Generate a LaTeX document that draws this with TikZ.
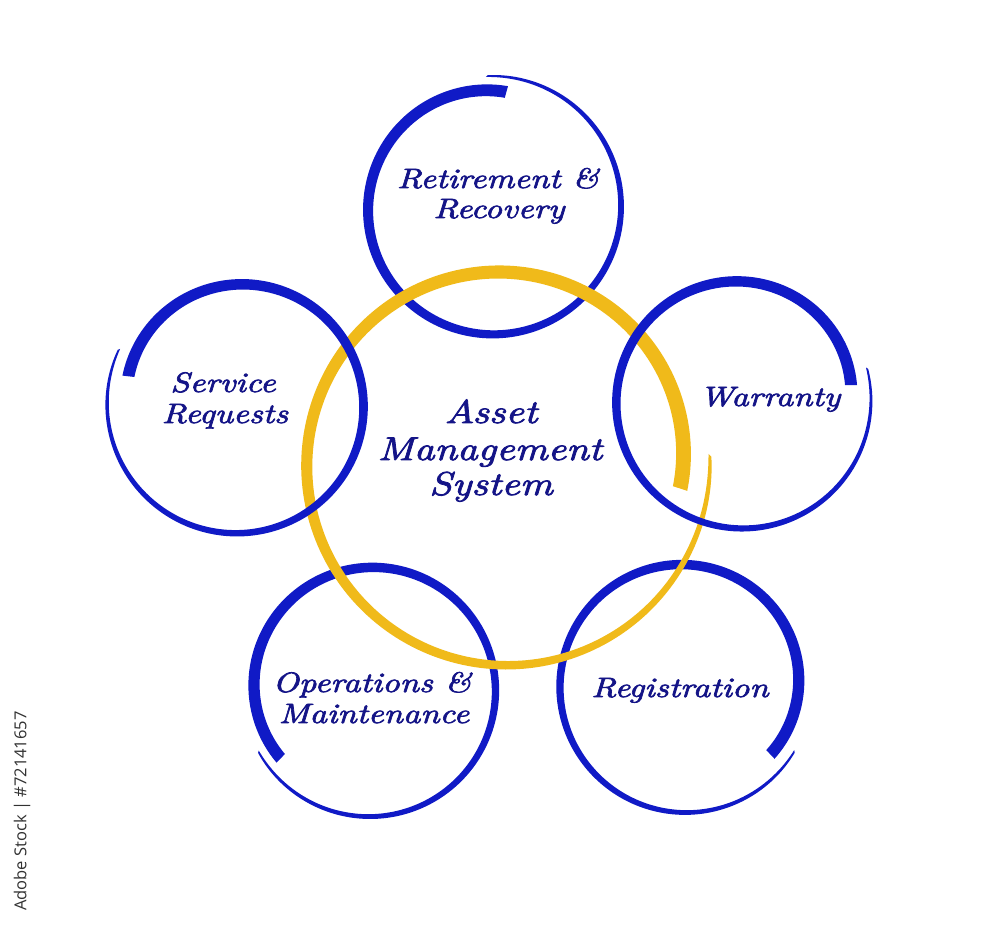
\documentclass[tikz,border=0pt]{standalone}
\usepackage{fontspec}
\newfontfamily\hand{lmroman10-italic}[Extension=.otf, FakeStretch=1.22, FakeBold=2.4]
\newfontfamily\wmfont{Open Sans}
\definecolor{ringblue}{RGB}{16,26,198}
\definecolor{ringyellow}{RGB}{240,186,26}
\definecolor{labelblue}{RGB}{20,20,135}
\definecolor{wmgray}{RGB}{50,50,50}
% brush ring: cx cy t0 sweep r0 r1 w0 w1 exponent
\newcommand\brushring[9]{%
  plot[domain=0:0.998, samples=220, variable=\s]
    ({#1+((#6)-((#6)-(#5))*(1-\s)^2+((#8)+((#7)-(#8))*(1-\s)^(#9))/2)*cos((#3)+(#4)*\s)},
     {#2+((#6)-((#6)-(#5))*(1-\s)^2+((#8)+((#7)-(#8))*(1-\s)^(#9))/2)*sin((#3)+(#4)*\s)})
  -- plot[domain=0.998:0, samples=220, variable=\s]
    ({#1+((#6)-((#6)-(#5))*(1-\s)^2-((#8)+((#7)-(#8))*(1-\s)^(#9))/2)*cos((#3)+(#4)*\s)},
     {#2+((#6)-((#6)-(#5))*(1-\s)^2-((#8)+((#7)-(#8))*(1-\s)^(#9))/2)*sin((#3)+(#4)*\s)})
  -- cycle}
\tikzset{
  bluering/.style={fill=ringblue},
  yellowring/.style={fill=ringyellow},
  lbl/.style={text=labelblue, anchor=base, inner sep=0pt, font=\hand\fontsize{28}{30}\selectfont},
  biglbl/.style={lbl, font=\hand\fontsize{33}{35}\selectfont},
  wm/.style={text=wmgray, inner sep=0pt, rotate=90, font=\wmfont\fontsize{16.5}{18}\selectfont}
}
\begin{document}
\begin{tikzpicture}[x=1pt, y=-1pt]
\useasboundingbox (0,0) rectangle (1000,933);
\fill[white] (0,0) rectangle (1000,933);
% top ring (Retirement & Recovery)
\fill[bluering] \brushring{491}{207}{-82}{-371}{116}{131}{12}{1.5}{0.65};
% bottom-left ring (Operations & Maintenance)
\fill[bluering] \brushring{370}{689}{141.8}{370}{113}{128}{12}{1.5}{0.65};
% bottom-right ring (Registration)
\fill[bluering] \brushring{685}{685}{39.5}{-369.4}{110}{128}{12}{1.5}{0.65};
% central yellow ring
\fill[yellowring] \brushring{505}{462}{9}{-372}{177}{205}{15}{2}{0.5};
% left ring (Service Requests)
\fill[bluering] \brushring{238}{404}{-166.2}{372}{113}{131}{12}{1.5}{0.65};
% right ring (Warranty)
\fill[bluering] \brushring{741}{400}{-7.3}{-368}{111}{130}{12}{1.5}{0.65};
% labels
\node[lbl] (ret1) at (498,188) {Retirement \&};
\node[lbl] (ret2) at (499,218) {Recovery};
\node[lbl] (srv1) at (223,392) {Service};
\node[lbl] (srv2) at (225,423) {Requests};
\node[lbl] (war) at (770,406) {Warranty};
\node[lbl] (ops1) at (372,692) {Operations \&};
\node[lbl] (ops2) at (374,723) {Maintenance};
\node[lbl] (reg) at (680,697) {Registration};
\node[biglbl] (ams1) at (491,423) {Asset};
\node[biglbl] (ams2) at (490,460) {Management};
\node[biglbl] (ams3) at (491,495) {System};
\node[wm] (stock) at (22,811) {Adobe Stock | \#72141657};
\end{tikzpicture}
\end{document}
